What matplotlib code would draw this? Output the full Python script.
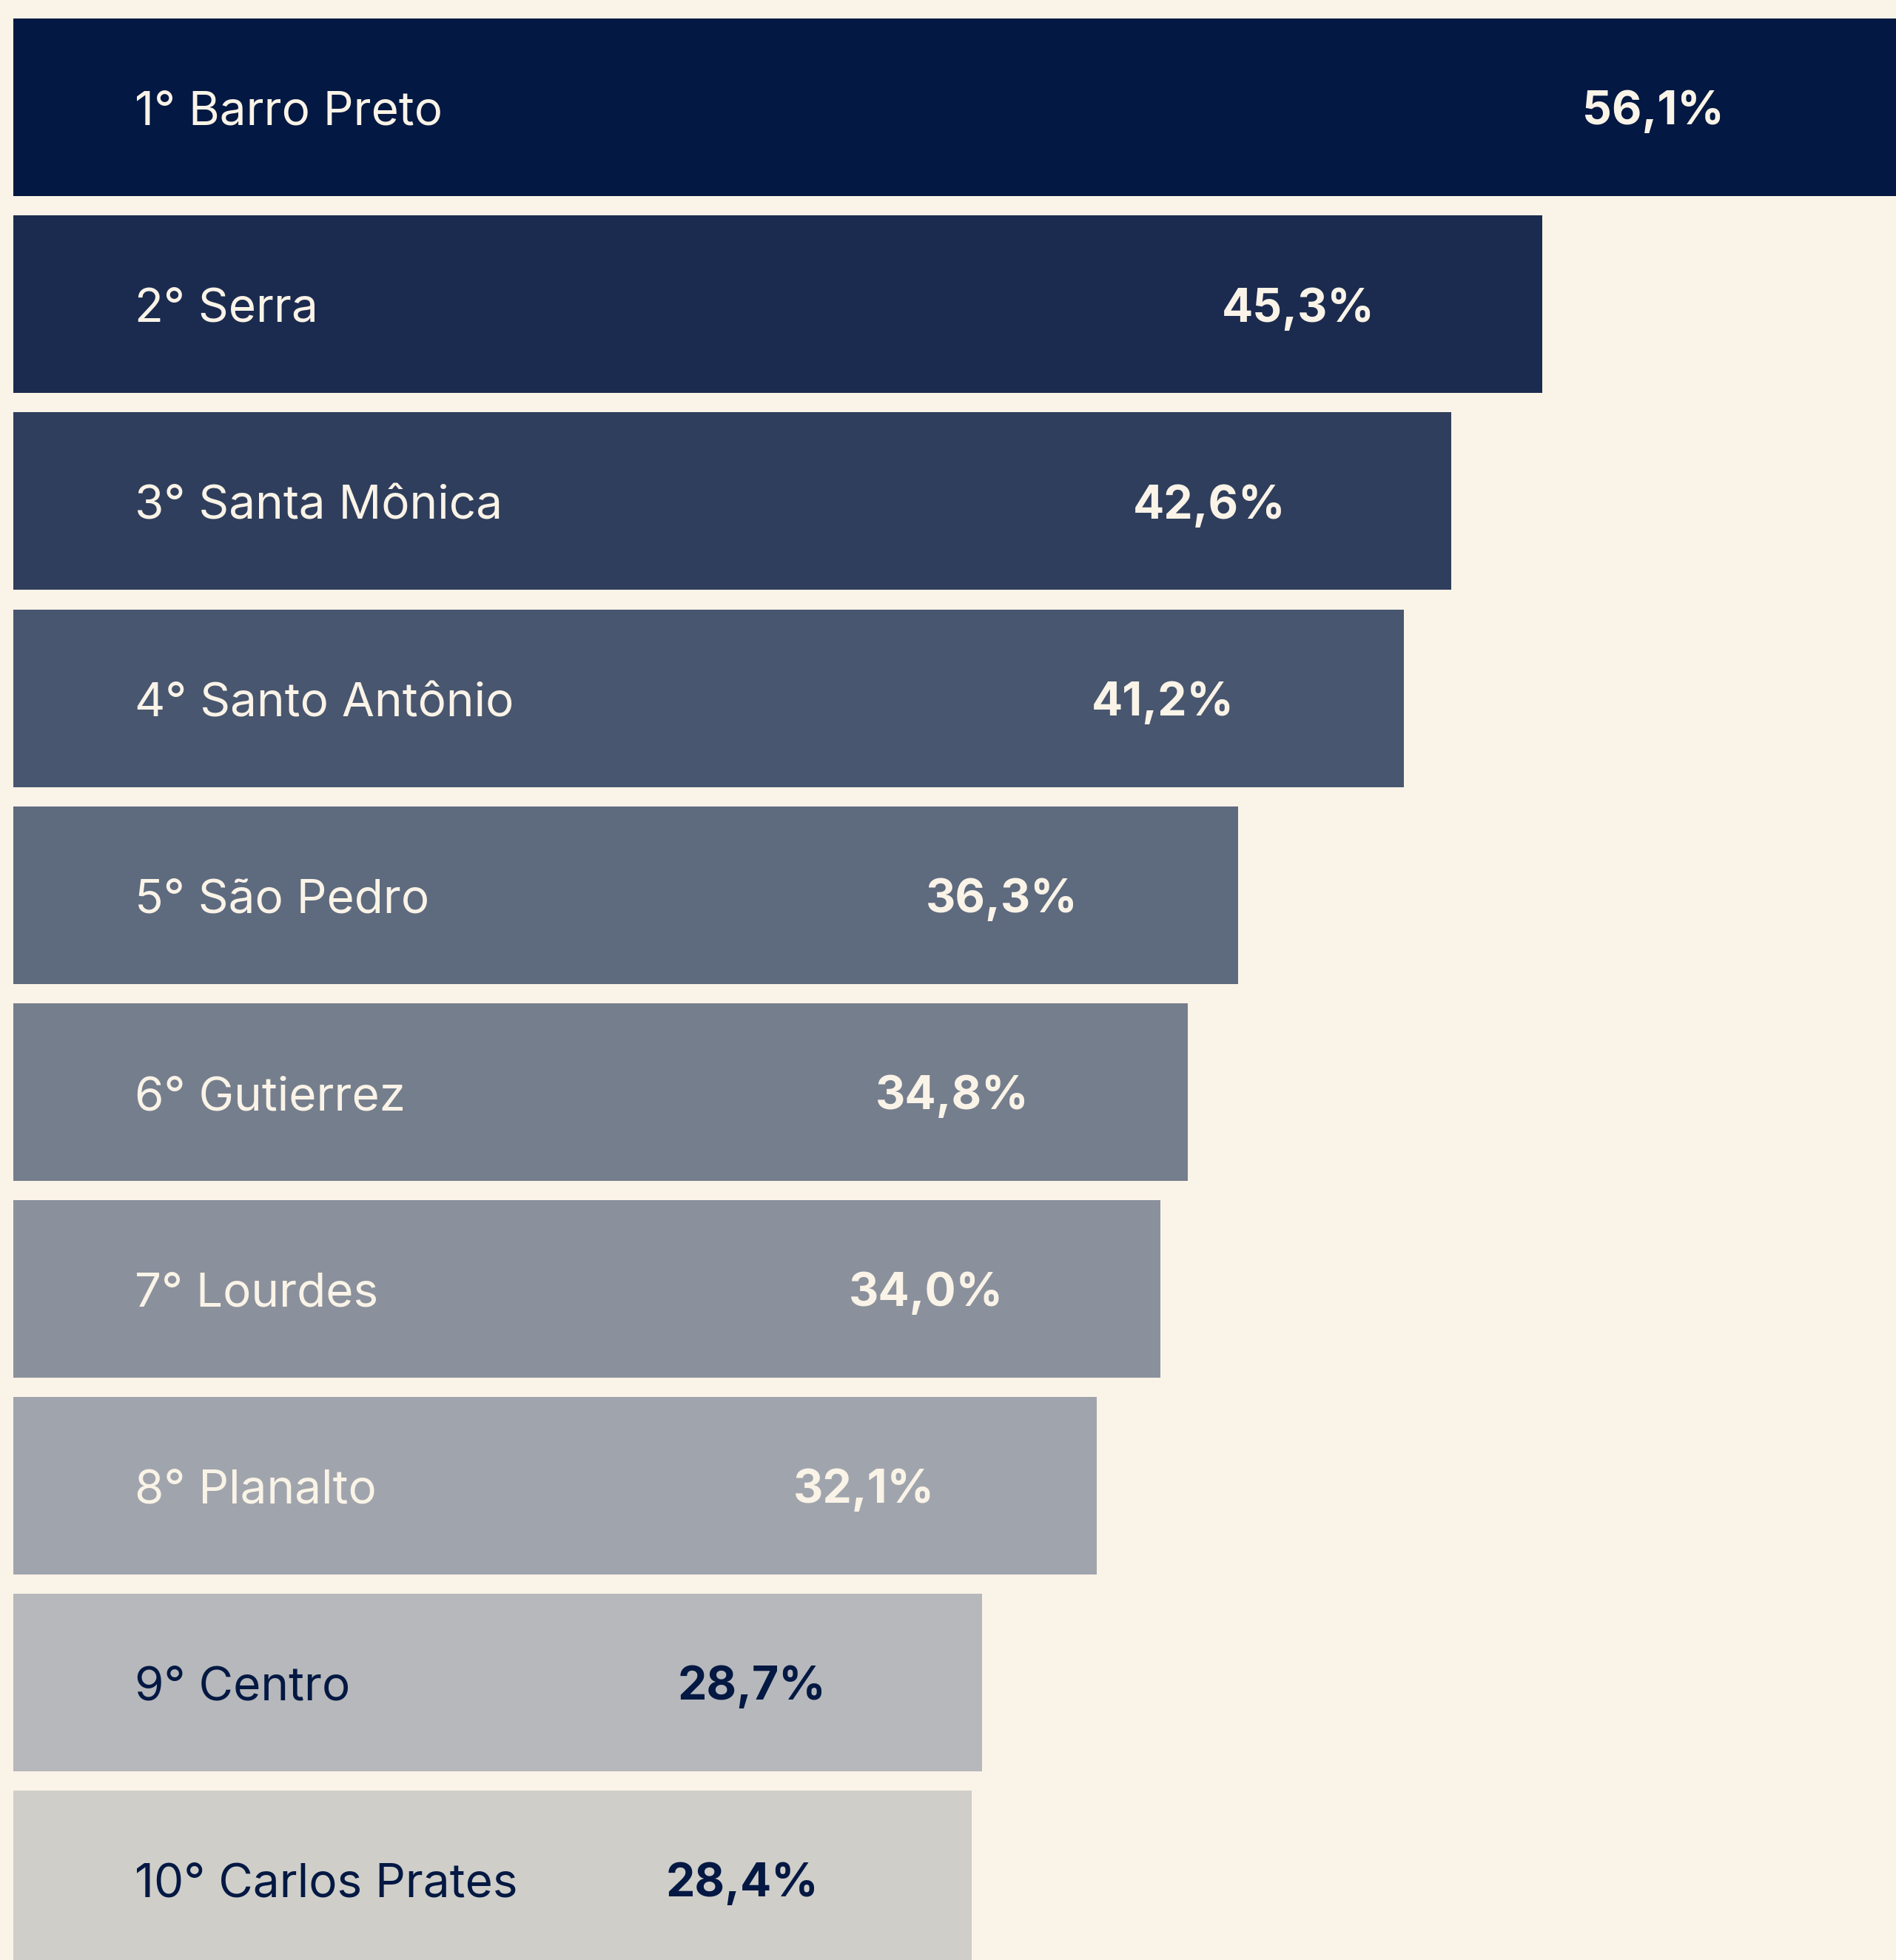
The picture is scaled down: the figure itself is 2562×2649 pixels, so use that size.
import matplotlib
matplotlib.use("Agg")
import matplotlib.pyplot as plt

# data
bairros = ["Barro Preto", "Serra", "Santa Mônica", "Santo Antônio", "São Pedro",
           "Gutierrez", "Lourdes", "Planalto", "Centro", "Carlos Prates"]
valores = [56.1, 45.3, 42.6, 41.2, 36.3, 34.8, 34.0, 32.1, 28.7, 28.4]
cores = ["#031842", "#1b2b4f", "#2f3e5c", "#48566f", "#5e6a7e",
         "#757e8d", "#8a919c", "#a0a5ad", "#b6b8bb", "#cfcec9"]

BG = "#faf3e7"
NAVY = "#031842"

plt.rcParams["font.family"] = ["Inter", "DejaVu Sans"]

fig = plt.figure(figsize=(25.62, 26.49), dpi=100, facecolor=BG)
ax = fig.add_axes([0, 0, 1, 1])
ax.set_facecolor(BG)

y = list(range(len(bairros)))
ax.barh(y, valores, height=0.902, color=cores, left=0)

for i, (nome, v) in enumerate(zip(bairros, valores)):
    tc = NAVY if i >= 8 else BG
    ax.text(3.6, i + 0.03, f"{i + 1}° {nome}", color=tc, fontsize=46,
            va="center", ha="left")
    ax.text(0.975 * v - 6.1, i + 0.025, f"{v:.1f}%".replace(".", ","), color=tc,
            fontsize=45, fontweight="bold", va="center", ha="center")

ax.set_xlim(-0.395, 55.79)
ax.set_ylim(9.409, -0.546)
ax.axis("off")

fig.savefig("out.png", dpi=100, facecolor=BG)
